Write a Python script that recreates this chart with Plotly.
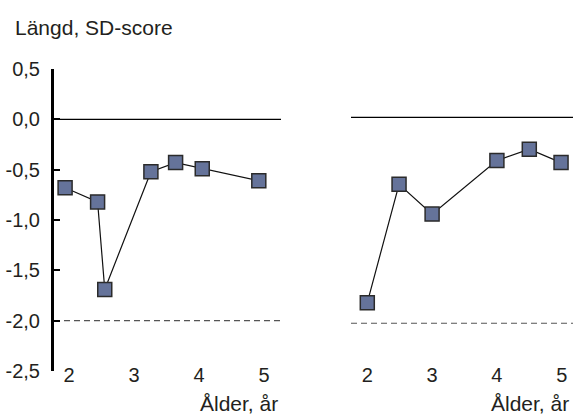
import plotly.graph_objects as go

# Data
left_age = [1.94, 2.44, 2.55, 3.26, 3.64, 4.05, 4.92]
left_sds = [-0.68, -0.82, -1.69, -0.52, -0.43, -0.49, -0.61]
right_age = [2.0, 2.49, 3.0, 4.0, 4.5, 4.99]
right_sds = [-1.80, -0.65, -0.94, -0.42, -0.31, -0.44]
x_ticks = [2, 3, 4, 5]
y_ticks = [0.5, 0.0, -0.5, -1.0, -1.5, -2.0, -2.5]
y_ticktext = ["0,5", "0,0", "-0,5", "-1,0", "-1,5", "-2,0", "-2,5"]
ref_lines = [0.0, -2.0]

W, H = 573, 417
FONT = "Liberation Sans, Arial, sans-serif"
TXT = "#231f20"

def fx(px):
    return px / W

def fy(py):
    return 1 - py / H

marker = dict(symbol="square", size=14, color="#65739a",
              line=dict(color="#2b2b2b", width=1.5))

fig = go.Figure()
fig.add_trace(go.Scatter(x=left_age, y=left_sds, mode="lines+markers",
                         line=dict(color="#111", width=1.2), marker=marker,
                         xaxis="x", yaxis="y", showlegend=False))
fig.add_trace(go.Scatter(x=right_age, y=right_sds, mode="lines+markers",
                         line=dict(color="#111", width=1.2), marker=marker,
                         xaxis="x2", yaxis="y2", showlegend=False))

for xr, yr in (("x", "y"), ("x2", "y2")):
    for v in ref_lines:
        fig.add_shape(type="line", xref=f"{xr} domain", yref=yr, x0=0, x1=1, y0=v, y1=v,
                      line=dict(color="#000" if v == 0 else "#555",
                                width=1.3 if v == 0 else 1.1,
                                dash="solid" if v == 0 else "6px,4px"), layer="below")

ydom = [fy(371), fy(69)]
tickfont = dict(family=FONT, size=20, color=TXT)

fig.update_layout(
    width=W, height=H, margin=dict(l=0, r=0, t=0, b=0, autoexpand=False),
    paper_bgcolor="white", plot_bgcolor="white",
    xaxis=dict(domain=[fx(54), fx(281)], range=[2 + (54 - 69) / 65, 2 + (281 - 69) / 65],
               anchor="free", position=fy(361), showline=False, showgrid=False, zeroline=False,
               tickvals=x_ticks, ticks="", tickfont=tickfont, automargin=False),
    yaxis=dict(domain=ydom, range=[-2.5, 0.5], anchor="x", showline=True, linewidth=3,
               linecolor="#000", ticks="inside", ticklen=6, tickwidth=2, tickcolor="#000",
               tickvals=y_ticks, ticktext=y_ticktext, showgrid=False, zeroline=False,
               tickfont=tickfont, ticklabelstandoff=7, automargin=False),
    xaxis2=dict(domain=[fx(351), 1.0], range=[2 + (351 - 367.3) / 64.8, 2 + (573 - 367.3) / 64.8],
                anchor="free", position=fy(361), showline=False, showgrid=False, zeroline=False,
                tickvals=x_ticks, ticks="", tickfont=tickfont, automargin=False),
    yaxis2=dict(domain=ydom, range=[(117.3 - 371) / 103, (117.3 - 69) / 103], anchor="x2",
                visible=False, showgrid=False, zeroline=False, automargin=False),
    annotations=[
        dict(text="Längd, SD-score", xref="paper", yref="paper", x=fx(13), y=fy(27),
             xanchor="left", yanchor="middle", showarrow=False,
             font=dict(family=FONT, size=21, color=TXT)),
        dict(text="Ålder, år", xref="paper", yref="paper", x=fx(280), y=fy(403),
             xanchor="right", yanchor="middle", showarrow=False,
             font=dict(family=FONT, size=21, color=TXT)),
        dict(text="Ålder, år", xref="paper", yref="paper", x=fx(571), y=fy(403),
             xanchor="right", yanchor="middle", showarrow=False,
             font=dict(family=FONT, size=21, color=TXT)),
    ],
)

fig.write_html("out.html", config={"displayModeBar": False},
               post_script="document.body.style.margin='0px';document.body.style.overflow='hidden';")
